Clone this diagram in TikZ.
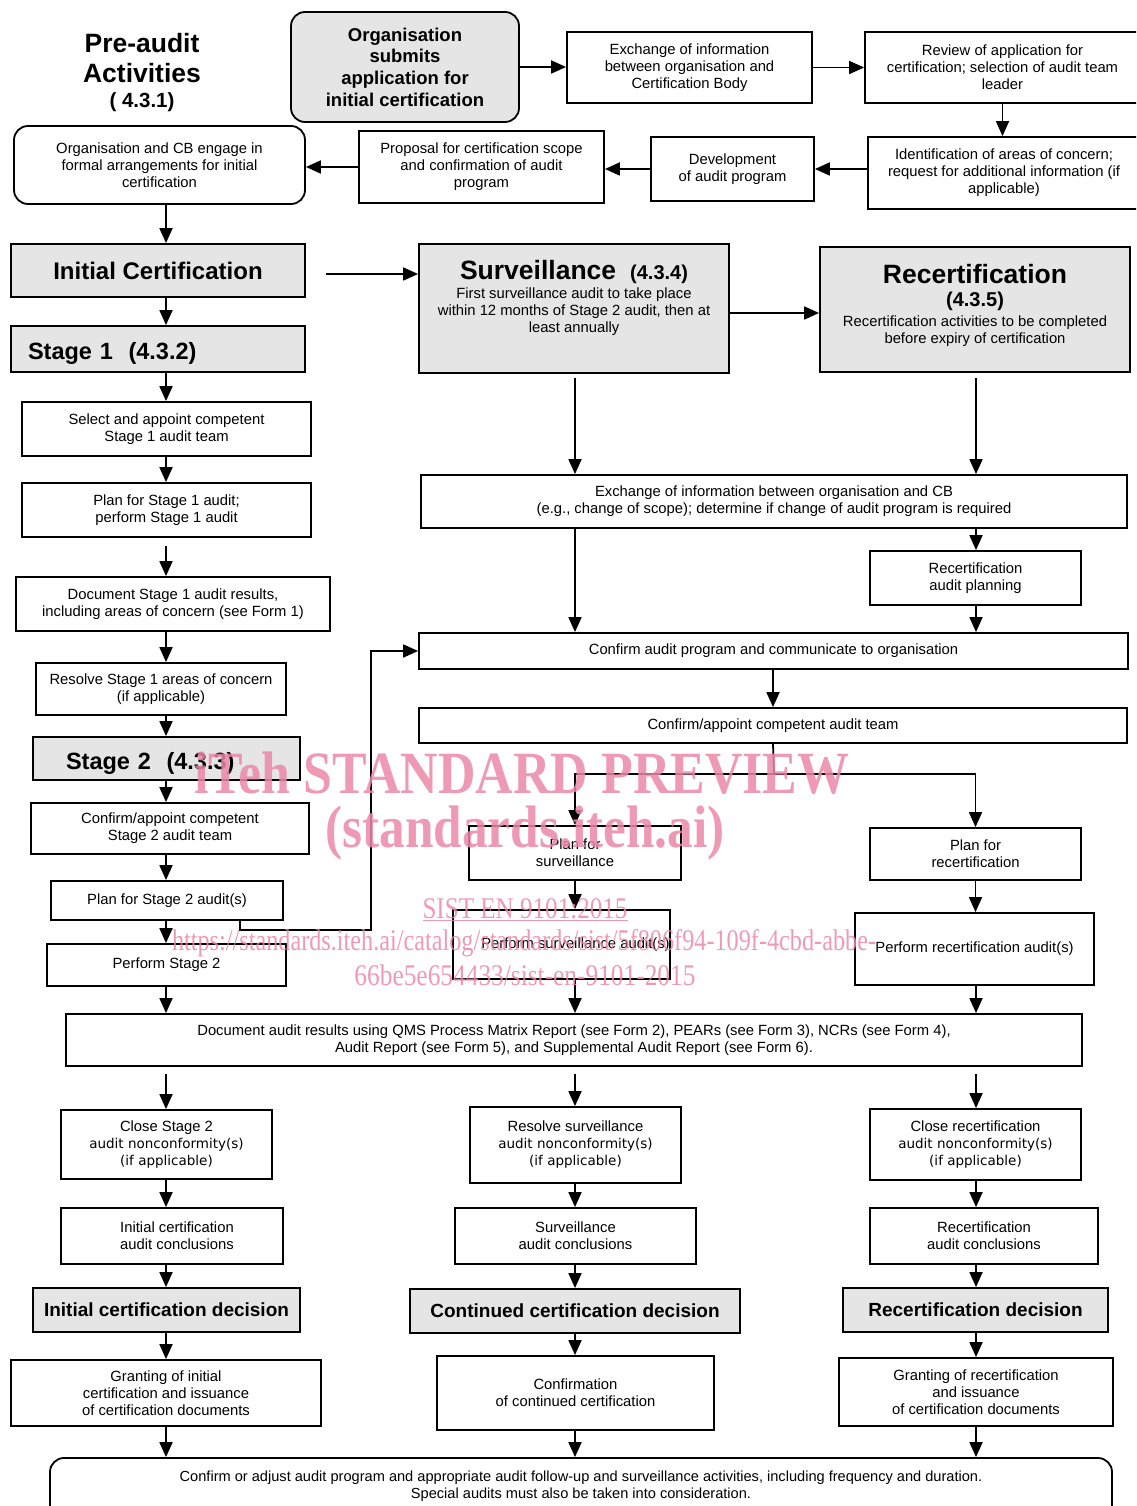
\documentclass[tikz,border=0pt]{standalone}
\usepackage{fontspec}
\usepackage{graphicx}
\setmainfont{Liberation Sans}
\newfontfamily\dvs{DejaVu Sans}
\newfontfamily\wmfont{Liberation Serif}
\usetikzlibrary{arrows.meta,calc}
\definecolor{boxgray}{RGB}{229,229,229}
\definecolor{wmpink}{RGB}{236,136,168}
\newcommand\bxn[7]{\node[#2, minimum width={#5-#3}, minimum height={#6-#4}] (#1) at ({(#3+#5)/2},{(#4+#6)/2}) {#7};}
\newcommand\dv[1]{{\dvs\fontsize{13.5}{17}\selectfont #1}}
\begin{document}
\begin{tikzpicture}[x=1pt,y=-1pt,
 box/.style={draw,line width=1.8pt,fill=white,inner sep=0pt,align=center,font=\fontsize{14.8}{17}\selectfont},
 gbox/.style={box,fill=boxgray},
 rbox/.style={box,rounded corners=14pt},
 txt/.style={inner sep=0pt,align=center,font=\fontsize{14.8}{17}\selectfont},
 arr/.style={line width=1.8pt,-{Triangle[length=15pt,width=13pt]}},
 plainline/.style={line width=1.8pt},
 wm/.style={inner sep=0pt,text=wmpink,text opacity=0.85}]
\useasboundingbox (0,0) rectangle (1136,1506);
\clip (0,0) rectangle (1136,1506);
\coordinate (cL) at (166,0);
\coordinate (cM) at (575,0);
\coordinate (cR) at (976,0);

% ---------- pre-audit ----------
\node[txt,font=\fontsize{26.5}{30}\selectfont\bfseries] (pre) at (142,58) {Pre-audit\\Activities};
\node[txt,font=\fontsize{20.5}{24}\selectfont\bfseries] (prenum) at (142,102) {( 4.3.1)};
\bxn{orgsub}{rbox,fill=boxgray,font=\fontsize{18.5}{21.7}\selectfont\bfseries}{291}{12}{519}{122}{Organisation\\submits\\application for\\initial certification}
\bxn{exch1}{box}{567}{32}{812}{103}{Exchange of information\\between organisation and\\Certification Body}
\bxn{review}{box}{865}{32}{1140}{103}{Review of application for\\certification; selection of audit team\\leader}
\bxn{ident}{box}{868}{137}{1140}{209}{Identification of areas of concern;\\request for additional information (if\\applicable)}
\bxn{devel}{box}{651}{137}{814}{201}{Development\\of audit program}
\bxn{prop}{box}{359}{131}{604}{203}{Proposal for certification scope\\and confirmation of audit\\program}
\bxn{engage}{rbox}{14}{126}{305}{204}{Organisation and CB engage in\\formal arrangements for initial\\certification}

% ---------- headers ----------
\bxn{ic}{gbox,font=\fontsize{24}{28}\selectfont\bfseries}{11}{244}{305}{297}{Initial Certification}
\bxn{surv}{gbox}{419}{244}{729}{373}{}
\node[txt] (survtitle) at (574,272) {\fontsize{26.5}{30}\selectfont\bfseries Surveillance\hspace{14pt}\fontsize{20}{24}\selectfont(4.3.4)};
\node[txt] (survbody) at (574,312) {First surveillance audit to take place\\within 12 months of Stage 2 audit, then at\\least annually};
\bxn{recert}{gbox}{820}{247}{1130}{372}{}
\node[txt,font=\fontsize{26.5}{30}\selectfont\bfseries] (rectitle) at (975,274) {Recertification};
\node[txt,font=\fontsize{20}{24}\selectfont\bfseries] (recnum) at (975,301) {(4.3.5)};
\node[txt] (recbody) at (975,331) {Recertification activities to be completed\\before expiry of certification};

% ---------- left column ----------
\bxn{stage1}{gbox,font=\fontsize{23.5}{28}\selectfont\bfseries,align=left,text width=260pt,inner xsep=17pt}{11}{326}{305}{372}{\raisebox{-4pt}[\height][\depth]{Stage 1\ \ (4.3.2)}}
\bxn{sel1}{box}{22}{402}{311}{456}{Select and appoint competent\\Stage 1 audit team}
\bxn{plan1}{box}{22}{483}{311}{537}{Plan for Stage 1 audit;\\perform Stage 1 audit}
\bxn{doc1}{box}{16}{577}{330}{631}{Document Stage 1 audit results,\\including areas of concern (see Form 1)}
\bxn{res1}{box}{36}{663}{286}{715}{Resolve Stage 1 areas of concern\\(if applicable)}
\bxn{stage2}{gbox,font=\fontsize{23.5}{28}\selectfont\bfseries,align=left,text width=201pt,inner xsep=33pt}{33}{737}{300}{780}{\raisebox{-5pt}[\height][\depth]{Stage 2\ \ (4.3.3)}}
\bxn{conf2}{box}{31}{803}{309}{854}{Confirm/appoint competent\\Stage 2 audit team}
\bxn{plan2}{box}{51}{881}{283}{920}{Plan for Stage 2 audit(s)}
\bxn{perf2}{box}{47}{944}{286}{986}{Perform Stage 2}

% ---------- right middle ----------
\bxn{exchcb}{box}{421}{475}{1127}{528}{Exchange of information between organisation and CB\\(e.g., change of scope); determine if change of audit program is required}
\bxn{rplan}{box}{870}{551}{1081}{605}{Recertification\\audit planning}
\bxn{confprog}{box}{419}{633}{1128}{669}{Confirm audit program and communicate to organisation}
\bxn{confteam}{box}{419}{708}{1127}{743}{Confirm/appoint competent audit team}
\bxn{plansurv}{box}{469}{826}{681}{880}{Plan for\\surveillance}
\bxn{perfsurv}{box}{456}{910}{667}{979}{\hspace*{28pt}Perform surveillance audit(s)}
\bxn{planrec}{box}{870}{828}{1081}{880}{Plan for\\recertification}
\bxn{perfrec}{box}{855}{913}{1094}{985}{Perform recertification audit(s)}
\bxn{docall}{box}{66}{1014}{1082}{1066}{Document audit results using QMS Process Matrix Report (see Form 2), PEARs (see Form 3), NCRs (see Form 4),\\Audit Report (see Form 5), and Supplemental Audit Report (see Form 6).}

% ---------- bottom ----------
\bxn{close2}{box}{61}{1110}{272}{1179}{Close Stage 2\\\dv{audit nonconformity(s)}\\\dv{(if applicable)}}
\bxn{concl1}{box}{61}{1208}{283}{1264}{\hspace*{10pt}Initial certification\\\hspace*{10pt}audit conclusions}
\bxn{dec1}{gbox,font=\fontsize{19}{23}\selectfont\bfseries}{33}{1288}{300}{1332}{Initial certification decision}
\bxn{grant1}{box}{11}{1360}{321}{1426}{Granting of initial\\certification and issuance\\of certification documents}

\bxn{ressurv}{box}{470}{1107}{681}{1183}{Resolve surveillance\\\dv{audit nonconformity(s)}\\\dv{(if applicable)}}
\bxn{conclsurv}{box}{455}{1208}{696}{1264}{Surveillance\\audit conclusions}
\bxn{dec2}{gbox,font=\fontsize{19}{23}\selectfont\bfseries}{410}{1289}{740}{1333}{Continued certification decision}
\bxn{confirm}{box}{437}{1356}{714}{1430}{Confirmation\\of continued certification}

\bxn{closerec}{box}{870}{1109}{1081}{1180}{Close recertification\\\dv{audit nonconformity(s)}\\\dv{(if applicable)}}
\bxn{conclrec}{box}{870}{1208}{1098}{1264}{Recertification\\audit conclusions}
\bxn{dec3}{gbox,font=\fontsize{19}{23}\selectfont\bfseries}{843}{1288}{1108}{1332}{Recertification decision}
\bxn{grant3}{box}{839}{1358}{1113}{1426}{Granting of recertification\\and issuance\\of certification documents}

\bxn{final}{rbox}{50}{1458}{1112}{1530}{}
\node[txt,font=\fontsize{14.6}{17}\selectfont] (finaltxt) at (581,1486) {Confirm or adjust audit program and appropriate audit follow-up and surveillance activities, including frequency and duration.\\Special audits must also be taken into consideration.};

% ---------- connectors: pre-audit ----------
\draw[arr] (orgsub.east) -- (orgsub.east -| exch1.west);
\draw[arr] (exch1.east) -- (exch1.east -| review.west);
\draw[arr] (review.south) -- (review.south |- ident.north);
\draw[arr] (ident.west |- devel.east) -- (devel.east);
\draw[arr] (devel.west) -- (devel.west -| prop.east);
\draw[arr] (prop.west) -- (prop.west -| engage.east);
\draw[arr] (engage.south -| cL) -- (ic.north -| cL);
\coordinate (icout) at (326,274);
\draw[arr] (icout) -- (icout -| surv.west);
\coordinate (survout) at (729,313);
\draw[arr] (survout) -- (survout -| recert.west);

% left column
\draw[arr] (ic.south -| cL) -- (stage1.north -| cL);
\draw[arr] (stage1.south -| cL) -- (sel1.north -| cL);
\draw[arr] (sel1.south -| cL) -- (plan1.north -| cL);
\draw[arr,shorten <=8pt] (plan1.south -| cL) -- (doc1.north -| cL);
\draw[arr] (doc1.south -| cL) -- (res1.north -| cL);
\draw[arr] (res1.south -| cL) -- (stage2.north -| cL);
\draw[arr] (stage2.south -| cL) -- (conf2.north -| cL);
\draw[arr] (conf2.south -| cL) -- (plan2.north -| cL);
\draw[arr] (plan2.south -| cL) -- (perf2.north -| cL);
\draw[arr] (perf2.south -| cL) -- (docall.north -| cL);
\coordinate (loopA) at (371,930);
\draw[arr] ([xshift=73pt]plan2.south) |- (loopA) |- (confprog.west);

% right middle
\draw[arr,shorten <=4pt] (surv.south -| cM) -- (exchcb.north -| cM);
\draw[arr,shorten <=5pt] (recert.south -| cR) -- (exchcb.north -| cR);
\draw[arr] (exchcb.south -| cM) -- (confprog.north -| cM);
\draw[arr] (exchcb.south -| cR) -- (rplan.north -| cR);
\draw[arr] (rplan.south -| cR) -- (confprog.north -| cR);
\draw[arr] (confprog.south -| confteam.north) -- (confteam.north);
\coordinate (branch) at (774,774);
\draw[plainline] (confteam.south) -- (branch);
\draw[arr] (branch) -| (plansurv.north);
\draw[arr] (branch) -| (planrec.north);
\draw[arr] (plansurv.south) -- (plansurv.south |- perfsurv.north);
\draw[arr] (planrec.south) -- (planrec.south |- perfrec.north);
\draw[arr] (perfsurv.south -| cM) -- (docall.north -| cM);
\draw[arr] (perfrec.south -| cR) -- (docall.north -| cR);

% bottom columns
\draw[arr,shorten <=7pt] (docall.south -| cL) -- (close2.north -| cL);
\draw[arr,shorten <=7pt] (docall.south -| cM) -- (ressurv.north -| cM);
\draw[arr,shorten <=7pt] (docall.south -| cR) -- (closerec.north -| cR);
\draw[arr] (close2.south -| cL) -- (concl1.north -| cL);
\draw[arr] (concl1.south -| cL) -- (dec1.north -| cL);
\draw[arr] (dec1.south -| cL) -- (grant1.north -| cL);
\draw[arr] (grant1.south -| cL) -- (final.north -| cL);
\draw[arr] (ressurv.south -| cM) -- (conclsurv.north -| cM);
\draw[arr] (conclsurv.south -| cM) -- (dec2.north -| cM);
\draw[arr] (dec2.south -| cM) -- (confirm.north -| cM);
\draw[arr] (confirm.south -| cM) -- (final.north -| cM);
\draw[arr] (closerec.south -| cR) -- (conclrec.north -| cR);
\draw[arr] (conclrec.south -| cR) -- (dec3.north -| cR);
\draw[arr] (dec3.south -| cR) -- (grant3.north -| cR);
\draw[arr] (grant3.south -| cR) -- (final.north -| cR);

% ---------- watermark ----------
\node[wm] (wm1) at (522,773) {\resizebox{655pt}{\height}{\wmfont\fontsize{60}{60}\selectfont\bfseries iTeh STANDARD PREVIEW}};
\node[wm] (wm2) at (525,833) {\resizebox{399pt}{\height}{\wmfont\fontsize{60}{60}\selectfont\bfseries (standards.iteh.ai)}};
\node[wm] (wm3) at (525,910) {\resizebox{205pt}{\height}{\wmfont\fontsize{30}{30}\selectfont\underline{SIST EN 9101:2015}}};
\node[wm] (wm4) at (524,943) {\resizebox{704pt}{\height}{\wmfont\fontsize{30}{30}\selectfont https://standards.iteh.ai/catalog/standards/sist/5f806f94-109f-4cbd-abbe-}};
\node[wm] (wm5) at (525,975) {\resizebox{341pt}{\height}{\wmfont\fontsize{30}{30}\selectfont 66be5e654433/sist-en-9101-2015}};
\end{tikzpicture}
\end{document}
